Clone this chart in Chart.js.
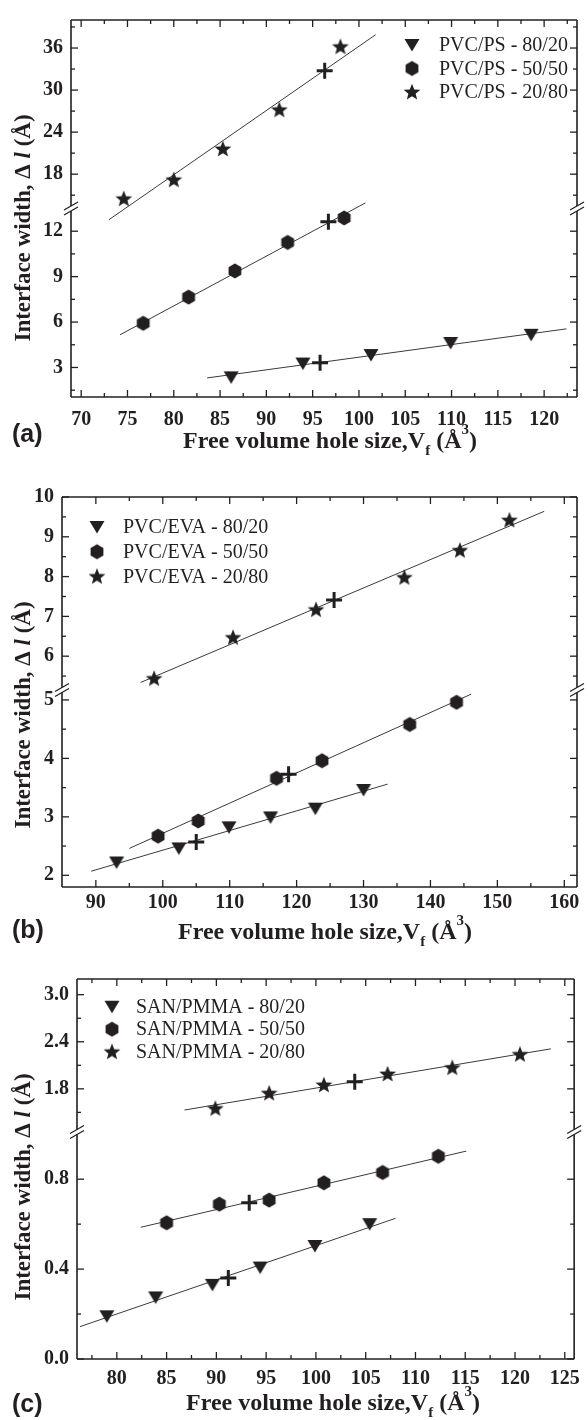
<!DOCTYPE html>
<html>
<head>
<meta charset="utf-8">
<script src="https://cdn.jsdelivr.net/npm/chart.js@4.4.1/dist/chart.umd.min.js"></script>
<style>
  body { margin: 0; background: #fff; width: 588px; height: 1420px; overflow: hidden; }
  .panel { position: relative; width: 588px; }
  canvas { display: block; }
</style>
</head>
<body>
<div class="panel" style="height:470px"><canvas id="chartA"></canvas></div>
<div class="panel" style="height:480px"><canvas id="chartB"></canvas></div>
<div class="panel" style="height:470px"><canvas id="chartC"></canvas></div>
<script>
// ---------- panel (a) PVC/PS ----------
const seriesA = ['PVC/PS - 80/20', 'PVC/PS - 50/50', 'PVC/PS - 20/80'];
const triA_x = [86.2, 93.95, 101.3, 109.9, 118.6];
const triA_y = [2.35, 3.26, 3.82, 4.62, 5.16];
const hexA_x = [76.7, 81.6, 86.6, 92.3, 98.4];
const hexA_y = [5.92, 7.65, 9.38, 11.26, 12.88];
const starA_x = [74.6, 80.0, 85.3, 91.4, 98.0];
const starA_y = [14.5, 17.2, 21.6, 27.2, 36.2];
const plusA_bot_x = [95.8, 96.7];
const plusA_bot_y = [3.32, 12.62];
const plusA_top_x = [96.3];
const plusA_top_y = [32.75];
const fitTriA_x = [83.6, 122.4], fitTriA_y = [2.31, 5.55];
const fitHexA_x = [74.2, 100.7], fitHexA_y = [5.16, 13.87];
const fitStarA_x = [73.0, 101.8], fitStarA_y = [11.5, 37.9];
const xTicksA = [70, 75, 80, 85, 90, 95, 100, 105, 110, 115, 120];
const xMinorA = [72.5, 77.5, 82.5, 87.5, 92.5, 97.5, 102.5, 107.5, 112.5, 117.5, 122.5];
const yTopTicksA = [18, 24, 30, 36];
const yTopMinorA = [15, 21, 27, 33, 39];
const yBotTicksA = [3, 6, 9, 12];
const yBotMinorA = [1.5, 4.5, 7.5, 10.5];

// ---------- panel (b) PVC/EVA ----------
const seriesB = ['PVC/EVA - 80/20', 'PVC/EVA - 50/50', 'PVC/EVA - 20/80'];
const triB_x = [93.1, 102.4, 109.9, 116.1, 122.8, 130.0];
const triB_y = [2.22, 2.46, 2.82, 2.99, 3.14, 3.46];
const hexB_x = [99.3, 105.3, 117.0, 123.8, 136.9, 143.9];
const hexB_y = [2.67, 2.93, 3.66, 3.96, 4.58, 4.96];
const starB_x = [98.7, 110.5, 122.9, 136.1, 144.4, 151.8];
const starB_y = [5.44, 6.47, 7.17, 7.98, 8.66, 9.42];
const plusB_bot_x = [105.0, 118.8];
const plusB_bot_y = [2.57, 3.73];
const plusB_top_x = [125.6];
const plusB_top_y = [7.41];
const fitTriB_x = [89.3, 133.6], fitTriB_y = [2.07, 3.56];
const fitHexB_x = [95.0, 146.1], fitHexB_y = [2.46, 5.10];
const fitStarB_x = [96.7, 157.0], fitStarB_y = [5.34, 9.64];
const xTicksB = [90, 100, 110, 120, 130, 140, 150, 160];
const xMinorB = [95, 105, 115, 125, 135, 145, 155];
const yTopTicksB = [6, 7, 8, 9, 10];
const yTopMinorB = [5.5, 6.5, 7.5, 8.5, 9.5];
const yBotTicksB = [2, 3, 4, 5];
const yBotMinorB = [2.5, 3.5, 4.5];

// ---------- panel (c) SAN/PMMA ----------
const seriesC = ['SAN/PMMA - 80/20', 'SAN/PMMA - 50/50', 'SAN/PMMA - 20/80'];
const triC_x = [79.0, 83.9, 89.6, 94.4, 99.9, 105.4];
const triC_y = [0.19, 0.274, 0.33, 0.407, 0.503, 0.60];
const hexC_x = [85.0, 90.3, 95.3, 100.8, 106.7, 112.3];
const hexC_y = [0.606, 0.689, 0.707, 0.784, 0.83, 0.902];
const starC_x = [89.9, 95.3, 100.8, 107.2, 113.7, 120.5];
const starC_y = [1.55, 1.745, 1.85, 1.99, 2.07, 2.24];
const plusC_bot_x = [91.2, 93.3];
const plusC_bot_y = [0.36, 0.695];
const plusC_top_x = [103.9];
const plusC_top_y = [1.89];
const fitTriC_x = [76.3, 108.0], fitTriC_y = [0.144, 0.626];
const fitHexC_x = [82.4, 115.1], fitHexC_y = [0.586, 0.925];
const fitStarC_x = [86.8, 123.6], fitStarC_y = [1.53, 2.31];
const xTicksC = [80, 85, 90, 95, 100, 105, 110, 115, 120, 125];
const xMinorC = [77.5, 82.5, 87.5, 92.5, 97.5, 102.5, 107.5, 112.5, 117.5, 122.5];
const yTopTicksC = [1.8, 2.4, 3.0];
const yTopMinorC = [1.5, 2.1, 2.7];
const yBotTicksC = [0.0, 0.4, 0.8];
const yBotMinorC = [0.2, 0.6];

const INK = '#231f20';
const SERIF = '"Liberation Serif", "Times New Roman", serif';
const SANS = '"Liberation Sans", Arial, sans-serif';

function pts(xs, ys) {
  return xs.map((x, i) => ({ x: x, y: ys[i] }));
}

// filled marker shapes drawn once into small canvases
function makeMarker(kind) {
  const c = document.createElement('canvas');
  c.width = 18; c.height = 18;
  const g = c.getContext('2d');
  const m = 9;
  g.fillStyle = INK;
  g.beginPath();
  if (kind === 'tri') {
    g.moveTo(m - 7.5, m - 6);
    g.lineTo(m + 7.5, m - 6);
    g.lineTo(m, m + 6.5);
  } else if (kind === 'hex') {
    for (let i = 0; i < 6; i++) {
      const a = -Math.PI / 2 + i * Math.PI / 3;
      const px = m + 7.4 * Math.cos(a), py = m + 7.4 * Math.sin(a);
      if (i === 0) g.moveTo(px, py); else g.lineTo(px, py);
    }
  } else {
    for (let i = 0; i < 10; i++) {
      const a = -Math.PI / 2 + i * Math.PI / 5;
      const r = i % 2 === 0 ? 8.8 : 3.8;
      const px = m + r * Math.cos(a), py = m + 0.5 + r * Math.sin(a);
      if (i === 0) g.moveTo(px, py); else g.lineTo(px, py);
    }
  }
  g.closePath();
  g.fill();
  return c;
}
const markers = [makeMarker('tri'), makeMarker('hex'), makeMarker('star')];

function drawParts(ctx, parts, cx, cy) {
  let total = 0;
  parts.forEach(p => { ctx.font = p.font; p.w = ctx.measureText(p.t).width; total += p.w; });
  let x = cx - total / 2;
  ctx.textAlign = 'left';
  ctx.textBaseline = 'middle';
  parts.forEach(p => {
    ctx.font = p.font;
    ctx.fillText(p.t, x, cy + (p.dy || 0));
    x += p.w;
  });
}

function decoPlugin(p) {
  return {
    id: 'deco',
    afterDraw(chart) {
      const ctx = chart.ctx;
      const a = chart.chartArea;
      const sx = chart.scales.x, st = chart.scales.yTop, sb = chart.scales.yBot;
      const yb = st.bottom;
      const seg = (x1, y1, x2, y2) => { ctx.beginPath(); ctx.moveTo(x1, y1); ctx.lineTo(x2, y2); ctx.stroke(); };
      ctx.save();
      ctx.strokeStyle = INK;
      ctx.fillStyle = INK;

      // inward ticks on all four sides
      ctx.lineWidth = 1.3;
      const xt = (vals, len) => vals.forEach(v => {
        const x = sx.getPixelForValue(v);
        seg(x, a.bottom, x, a.bottom - len);
        seg(x, a.top, x, a.top + len);
      });
      const yt = (scale, vals, len) => vals.forEach(v => {
        const y = scale.getPixelForValue(v);
        seg(a.left, y, a.left + len, y);
        seg(a.right, y, a.right - len, y);
      });
      xt(p.xMajor, 7); xt(p.xMinor, 4);
      yt(st, p.topMajor, 7); yt(st, p.topMinor, 4);
      yt(sb, p.botMajor, 7); yt(sb, p.botMinor, 4);

      // frame with axis break
      ctx.lineWidth = 1.6;
      seg(a.left, a.top, a.right, a.top);
      seg(a.left, a.bottom, a.right, a.bottom);
      [a.left, a.right].forEach(x => {
        ctx.lineWidth = 1.6;
        seg(x, a.top, x, yb - 2.5);
        seg(x, yb + 2.5, x, a.bottom);
        ctx.lineWidth = 1.3;
        seg(x - 7, yb + 1.5, x + 7, yb - 6.5);
        seg(x - 7, yb + 6.5, x + 7, yb - 1.5);
      });

      // legend
      ctx.textAlign = 'left';
      ctx.textBaseline = 'middle';
      ctx.font = '20px ' + SERIF;
      p.series.forEach((name, i) => {
        const y = p.leg.y0 + i * p.leg.dy;
        const img = markers[i];
        ctx.drawImage(img, p.leg.sx - img.width / 2, y - img.height / 2);
        ctx.fillText(name, p.leg.tx, y + 1);
      });

      // axis titles
      const xBig = 'bold 24px ' + SERIF, xSmall = 'bold 15px ' + SERIF;
      drawParts(ctx, [
        { t: 'Free volume hole size,V', font: xBig },
        { t: 'f', font: xSmall, dy: 9 },
        { t: ' (Å', font: xBig },
        { t: '3', font: xSmall, dy: -12 },
        { t: ')', font: xBig }
      ], p.xTitle.x, p.xTitle.y);

      const yBig = 'bold 23px ' + SERIF;
      ctx.save();
      ctx.translate(p.yTitle.x, p.yTitle.y);
      ctx.rotate(-Math.PI / 2);
      drawParts(ctx, [
        { t: 'Interface width, Δ ', font: yBig },
        { t: 'l', font: 'italic bold 23px ' + SERIF },
        { t: ' (Å)', font: yBig }
      ], 0, 0);
      ctx.restore();

      // panel tag
      ctx.font = 'bold 25px ' + SANS;
      ctx.textAlign = 'left';
      ctx.fillText(p.tag, p.tagPos.x, p.tagPos.y);
      ctx.restore();
    }
  };
}

function buildPanel(id, p) {
  const tickFont = { family: SERIF, size: 20, weight: 'bold' };
  const fmt = v => Number(v).toFixed(p.dec);
  const axisY = (range, major, weight, stackWeight) => ({
    type: 'linear',
    position: 'left',
    stack: 'y',
    stackWeight: stackWeight,
    weight: weight,
    min: range[0],
    max: range[1],
    grid: { display: false, drawTicks: false },
    border: { display: false },
    afterBuildTicks: s => { s.ticks = major.map(v => ({ value: v })); },
    afterFit: s => { s.width = p.g.yAxisW; },
    ticks: { font: tickFont, color: INK, padding: 8, callback: fmt, autoSkip: false }
  });
  const line = (xs, ys, axis) => ({
    type: 'line', data: pts(xs, ys), yAxisID: axis, clip: false,
    borderColor: '#3a3a3a', borderWidth: 1, pointRadius: 0, fill: false, order: 3
  });
  const scatter = (xs, ys, axis, style) => ({
    type: 'scatter', data: pts(xs, ys), yAxisID: axis, clip: false,
    pointStyle: style, pointRadius: 8, order: 1,
    backgroundColor: INK, borderColor: INK
  });
  const plus = (xs, ys, axis) => ({
    type: 'scatter', data: pts(xs, ys), yAxisID: axis, clip: false,
    pointStyle: 'cross', pointRadius: 8, pointBorderWidth: 3, borderWidth: 3,
    borderColor: INK, order: 0
  });

  new Chart(document.getElementById(id), {
    data: {
      datasets: [
        line(p.fits[0][0], p.fits[0][1], 'yBot'),
        line(p.fits[1][0], p.fits[1][1], 'yBot'),
        line(p.fits[2][0], p.fits[2][1], 'yTop'),
        scatter(p.tri[0], p.tri[1], 'yBot', markers[0]),
        scatter(p.hex[0], p.hex[1], 'yBot', markers[1]),
        scatter(p.star[0], p.star[1], 'yTop', markers[2]),
        plus(p.plusBot[0], p.plusBot[1], 'yBot'),
        plus(p.plusTop[0], p.plusTop[1], 'yTop')
      ]
    },
    options: {
      responsive: true,
      maintainAspectRatio: false,
      animation: false,
      events: [],
      layout: { padding: { top: p.g.padTop, right: 1, left: 0, bottom: 0 } },
      plugins: { legend: { display: false }, tooltip: { enabled: false } },
      scales: {
        x: {
          type: 'linear',
          position: 'bottom',
          min: p.xRange[0],
          max: p.xRange[1],
          grid: { display: false, drawTicks: false },
          border: { display: false },
          afterBuildTicks: s => { s.ticks = p.xMajor.map(v => ({ value: v })); },
          afterFit: s => { s.height = p.g.xAxisH; },
          ticks: { font: tickFont, color: INK, padding: p.g.xPad, maxRotation: 0, autoSkip: false }
        },
        yBot: axisY(p.botRange, p.botMajor, 1, p.g.botW),
        yTop: axisY(p.topRange, p.topMajor, 2, p.g.topW)
      }
    },
    plugins: [decoPlugin(p)]
  });
}

buildPanel('chartA', {
  series: seriesA, dec: 0,
  tri: [triA_x, triA_y], hex: [hexA_x, hexA_y], star: [starA_x, starA_y],
  plusBot: [plusA_bot_x, plusA_bot_y], plusTop: [plusA_top_x, plusA_top_y],
  fits: [[fitTriA_x, fitTriA_y], [fitHexA_x, fitHexA_y], [fitStarA_x, fitStarA_y]],
  xRange: [68.9, 123.55], xMajor: xTicksA, xMinor: xMinorA,
  topRange: [13.1, 40], topMajor: yTopTicksA, topMinor: yTopMinorA,
  botRange: [1.05, 13.5], botMajor: yBotTicksA, botMinor: yBotMinorA,
  g: { padTop: 13, xAxisH: 73, yAxisW: 71, xPad: 11, topW: 192, botW: 192 },
  leg: { sx: 412, tx: 439, y0: 45, dy: 23.5 },
  xTitle: { x: 330, y: 442 }, yTitle: { x: 24, y: 228 },
  tag: '(a)', tagPos: { x: 12, y: 435 }
});

buildPanel('chartB', {
  series: seriesB, dec: 0,
  tri: [triB_x, triB_y], hex: [hexB_x, hexB_y], star: [starB_x, starB_y],
  plusBot: [plusB_bot_x, plusB_bot_y], plusTop: [plusB_top_x, plusB_top_y],
  fits: [[fitTriB_x, fitTriB_y], [fitHexB_x, fitHexB_y], [fitStarB_x, fitStarB_y]],
  xRange: [84.94, 161.9], xMajor: xTicksB, xMinor: xMinorB,
  topRange: [5.15, 10], topMajor: yTopTicksB, topMinor: yTopMinorB,
  botRange: [1.8, 5.17], botMajor: yBotTicksB, botMinor: yBotMinorB,
  g: { padTop: 27, xAxisH: 63, yAxisW: 62, xPad: 4, topW: 193, botW: 197 },
  leg: { sx: 97, tx: 123, y0: 57, dy: 24.7 },
  xTitle: { x: 325, y: 463 }, yTitle: { x: 24, y: 245 },
  tag: '(b)', tagPos: { x: 12, y: 461 }
});

buildPanel('chartC', {
  series: seriesC, dec: 1,
  tri: [triC_x, triC_y], hex: [hexC_x, hexC_y], star: [starC_x, starC_y],
  plusBot: [plusC_bot_x, plusC_bot_y], plusTop: [plusC_top_x, plusC_top_y],
  fits: [[fitTriC_x, fitTriC_y], [fitHexC_x, fitHexC_y], [fitStarC_x, fitStarC_y]],
  xRange: [76.0, 125.94], xMajor: xTicksC, xMinor: xMinorC,
  topRange: [1.25, 3.2], topMajor: yTopTicksC, topMinor: yTopMinorC,
  botRange: [0, 1.01], botMajor: yBotTicksC, botMinor: yBotMinorC,
  g: { padTop: 29, xAxisH: 61, yAxisW: 77, xPad: 8, topW: 153, botW: 227 },
  leg: { sx: 112, tx: 136, y0: 56.7, dy: 22.5 },
  xTitle: { x: 333, y: 454 }, yTitle: { x: 24, y: 237 },
  tag: '(c)', tagPos: { x: 12, y: 455 }
});
</script>
</body>
</html>
